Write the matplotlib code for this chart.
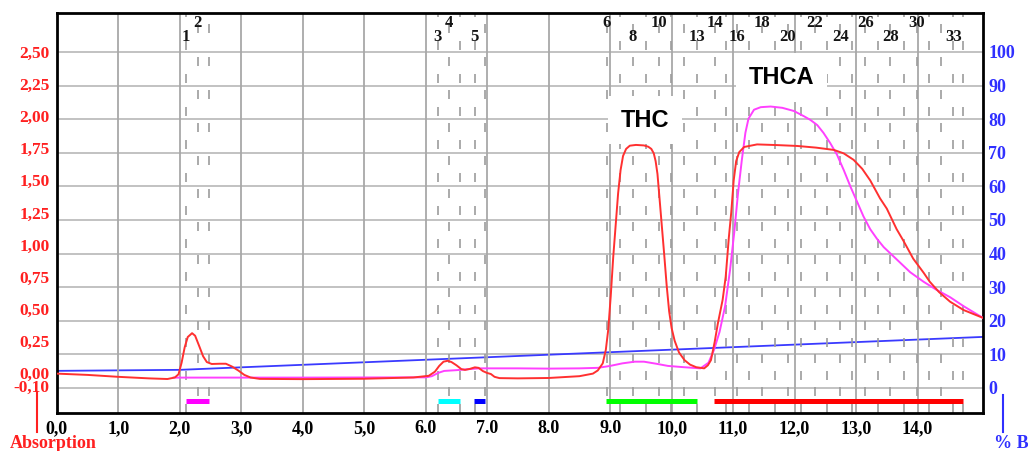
import matplotlib
matplotlib.use("Agg")
import matplotlib.pyplot as plt
from matplotlib.lines import Line2D

# ---------------- data ----------------
# red trace: absorption (left axis)
time_red = [0.00, 0.50, 1.00, 1.50, 1.80, 1.92, 1.98, 2.03, 2.08, 2.13, 2.20, 2.25,
            2.32, 2.38, 2.44, 2.52, 2.65, 2.75, 2.85, 2.95, 3.05, 3.15, 3.30, 4.00,
            5.00, 5.80, 6.05, 6.15, 6.22, 6.29, 6.36, 6.42, 6.50, 6.58, 6.64, 6.72,
            6.80, 6.86, 6.93, 7.00, 7.06, 7.12, 7.20, 7.50, 8.00, 8.50, 8.72, 8.80,
            8.88, 8.93, 8.97, 9.01, 9.05, 9.09, 9.13, 9.17, 9.21, 9.26, 9.32, 9.42,
            9.55, 9.62, 9.67, 9.71, 9.74, 9.77, 9.80, 9.84, 9.88, 9.92, 9.96, 10.00,
            10.05, 10.12, 10.21, 10.30, 10.40, 10.53, 10.59, 10.64, 10.70, 10.75, 10.83,
            10.88, 10.93, 10.97, 11.01, 11.05, 11.10, 11.18, 11.39, 11.70, 12.04, 12.35,
            12.64, 12.80, 12.96, 13.10, 13.23, 13.39, 13.50, 13.66, 13.77, 13.93, 14.10,
            14.20, 14.35, 14.53, 14.75, 15.06]
abs_red = [-0.005, -0.015, -0.030, -0.042, -0.047, -0.035, -0.010, 0.080, 0.200, 0.280,
           0.310, 0.290, 0.205, 0.130, 0.085, 0.070, 0.072, 0.072, 0.050, 0.020, -0.015,
           -0.035, -0.046, -0.048, -0.045, -0.035, -0.022, 0.010, 0.055, 0.088, 0.095,
           0.085, 0.060, 0.030, 0.024, 0.032, 0.044, 0.040, 0.015, 0.000, -0.008, -0.030,
           -0.040, -0.042, -0.039, -0.025, -0.005, 0.020, 0.075, 0.180, 0.340, 0.600,
           0.900, 1.150, 1.400, 1.580, 1.690, 1.745, 1.770, 1.776, 1.772, 1.762, 1.745,
           1.710, 1.650, 1.550, 1.380, 1.150, 0.920, 0.680, 0.480, 0.350, 0.250, 0.160,
           0.100, 0.065, 0.045, 0.036, 0.060, 0.100, 0.240, 0.380, 0.570, 0.750, 1.050,
           1.250, 1.500, 1.650, 1.720, 1.760, 1.780, 1.775, 1.768, 1.755, 1.737, 1.710,
           1.660, 1.590, 1.500, 1.360, 1.280, 1.120, 1.030, 0.890, 0.780, 0.710, 0.630,
           0.555, 0.490, 0.430]

# magenta trace: second wavelength (left axis)
time_pink = [1.90, 4.00, 6.00, 6.10, 6.20, 6.30, 6.50, 6.86, 7.50, 8.00, 8.50, 8.80,
             9.00, 9.20, 9.40, 9.55, 9.75, 9.94, 10.20, 10.47, 10.60, 10.69, 10.78,
             10.87, 10.95, 11.02, 11.08, 11.14, 11.20, 11.25, 11.34, 11.45, 11.61, 11.80,
             11.99, 12.15, 12.26, 12.37, 12.47, 12.58, 12.69, 12.80, 12.91, 13.02, 13.12,
             13.23, 13.34, 13.45, 13.66, 13.88, 14.10, 14.30, 14.53, 14.75, 15.06]
abs_pink = [-0.036, -0.036, -0.034, -0.025, 0.000, 0.016, 0.022, 0.036, 0.036, 0.034,
            0.036, 0.040, 0.055, 0.075, 0.088, 0.088, 0.072, 0.055, 0.045, 0.036, 0.080,
            0.180, 0.320, 0.520, 0.800, 1.100, 1.400, 1.650, 1.870, 1.980, 2.050, 2.070,
            2.075, 2.065, 2.040, 2.000, 1.970, 1.930, 1.870, 1.790, 1.700, 1.580, 1.450,
            1.330, 1.220, 1.120, 1.045, 0.980, 0.885, 0.785, 0.710, 0.650, 0.590, 0.520,
            0.430]

# blue line: gradient %B (right axis)
time_grad = [0.0, 2.0, 15.06]
pct_b = [5.1, 5.4, 15.2]

# fraction collector marks
frac_num = list(range(1, 34))
frac_time = [2.10, 2.29, 6.20, 6.38, 6.80, 8.95, 9.16, 9.37, 9.58, 9.79, 9.99, 10.20,
             10.41, 10.71, 10.88, 11.06, 11.26, 11.47, 11.68, 11.89, 12.11, 12.33,
             12.53, 12.74, 12.94, 13.15, 13.35, 13.56, 13.78, 13.99, 14.19, 14.38, 14.58]
frac_end_time = [2.48, 6.56, 6.97, 14.74]
labels_upper = [2, 4, 6, 10, 14, 18, 22, 26, 30]
labels_lower = [1, 3, 5, 8, 13, 16, 20, 24, 28, 33]

# collected fraction ranges (bars below traces)
bar_start = [2.10, 6.20, 6.79, 8.93, 10.69]
bar_end = [2.48, 6.56, 6.97, 10.41, 14.74]
bar_color = ["#ff00ff", "#00ffff", "#0000ff", "#00ff00", "#ff0000"]

# axis ticks
x_ticks = list(range(0, 15))
x_labels = ["0,0", "1,0", "2,0", "3,0", "4,0", "5,0", "6.0", "7.0", "8.0", "9.0",
            "10,0", "11,0", "12,0", "13,0", "14,0"]
abs_ticks = [-0.10, 0.00, 0.25, 0.50, 0.75, 1.00, 1.25, 1.50, 1.75, 2.00, 2.25, 2.50]
abs_labels = ["-0,10", "0,00", "0,25", "0,50", "0,75", "1,00", "1,25", "1,50", "1,75",
              "2,00", "2,25", "2,50"]
pb_ticks = [0, 10, 20, 30, 40, 50, 60, 70, 80, 90, 100]

# ---------------- figure ----------------
W, H = 1028, 451
fig = plt.figure(figsize=(W / 100, H / 100), dpi=100)
L, R, T, B = 56.8, 982.7, 13.3, 413.3
ax = fig.add_axes([L / W, 1 - B / H, (R - L) / W, (B - T) / H])
ax2 = ax.twinx()
ax.set_zorder(ax2.get_zorder() + 1)
ax.patch.set_visible(False)
ax2.patch.set_facecolor("white")

serif = "Liberation Serif"
grid_col = "#b8b8b8"

ax.set_xlim(0, 15.06)
ax.set_ylim(-0.314, 2.801)
ax2.set_ylim(-7.53, 111.5)

# horizontal grid (from %B axis)
ax2.set_yticks(pb_ticks)
ax2.set_yticklabels([str(v) for v in pb_ticks], color="#3030ff", fontsize=13,
                    fontweight="bold", family=serif)
ax2.tick_params(axis="y", length=0, pad=4)
ax2.grid(axis="y", color=grid_col, lw=1.2)
ax2.grid(axis="x", visible=False)
for s in ax2.spines.values():
    s.set_visible(False)

# %B gradient
ax2.plot(time_grad, pct_b, color="#3a3aff", lw=1.3, zorder=3)

# left axis
ax.set_yticks(abs_ticks)
ax.set_yticklabels(abs_labels, color="#ff2020", fontsize=12.5, fontweight="bold",
                   family=serif)
ax.tick_params(axis="y", length=0, pad=5)
ax.set_xticks(x_ticks)
ax.set_xticklabels(x_labels, fontsize=13, fontweight="bold", family=serif)
ax.tick_params(axis="x", length=0, pad=5)
ax.grid(axis="x", color="#a8a8a8", lw=1.3, zorder=0)
ax.set_axisbelow(True)
for s in ax.spines.values():
    s.set_linewidth(2.0)
    s.set_color("black")

# fraction dashed lines
lw_d = 1.2
for i, t in enumerate(list(frac_time) + list(frac_end_time)):
    off = 0 if i % 2 == 0 else 9.6
    ax.axvline(t, color="#9c9c9c", lw=lw_d, linestyle=(off, (5.4, 14.4)), zorder=1)

# fraction labels
for n, t in zip(frac_num, frac_time):
    if n in labels_upper:
        yy = 0.975
    elif n in labels_lower:
        yy = 0.94
    else:
        continue
    ax.text(t, yy, str(n), transform=ax.get_xaxis_transform(), ha="center",
            va="center", fontsize=12, fontweight="bold", family=serif,
            color="#151515", zorder=4)

# traces
ax.plot(time_pink, abs_pink, color="#ff40ff", lw=1.4, zorder=5)
ax.plot(time_red, abs_red, color="#ff3030", lw=1.4, zorder=6)

# fraction bars
for s0, s1, c in zip(bar_start, bar_end, bar_color):
    ax.plot([s0, s1], [-0.218, -0.218], color=c, lw=3.6, solid_capstyle="butt",
            zorder=6)

# peak labels
box = dict(facecolor="white", edgecolor="none", boxstyle="square,pad=0.55")
ax.text(9.57, 1.97, "THC", ha="center", va="center", fontsize=17, fontweight="bold",
        family="Liberation Sans", color="black", bbox=box, zorder=3)
ax.text(11.79, 2.30, "THCA", ha="center", va="center", fontsize=17, fontweight="bold",
        family="Liberation Sans", color="black", bbox=box, zorder=3)

# axis captions
fig.text(53 / W, 1 - 444 / H, "Absorption", ha="center", va="center", color="#ff2020",
         fontsize=13, fontweight="bold", family=serif)
fig.add_artist(Line2D([37 / W, 37 / W], [1 - 392 / H, 1 - 432 / H],
                      transform=fig.transFigure, color="#ff2020", lw=1.5))
fig.text(1011 / W, 1 - 443 / H, "% B", ha="center", va="center", color="#3030ff",
         fontsize=13, fontweight="bold", family=serif)
fig.add_artist(Line2D([1003 / W, 1003 / W], [1 - 395 / H, 1 - 432 / H],
                      transform=fig.transFigure, color="#3030ff", lw=1.5))

fig.savefig("out.png", dpi=100)
